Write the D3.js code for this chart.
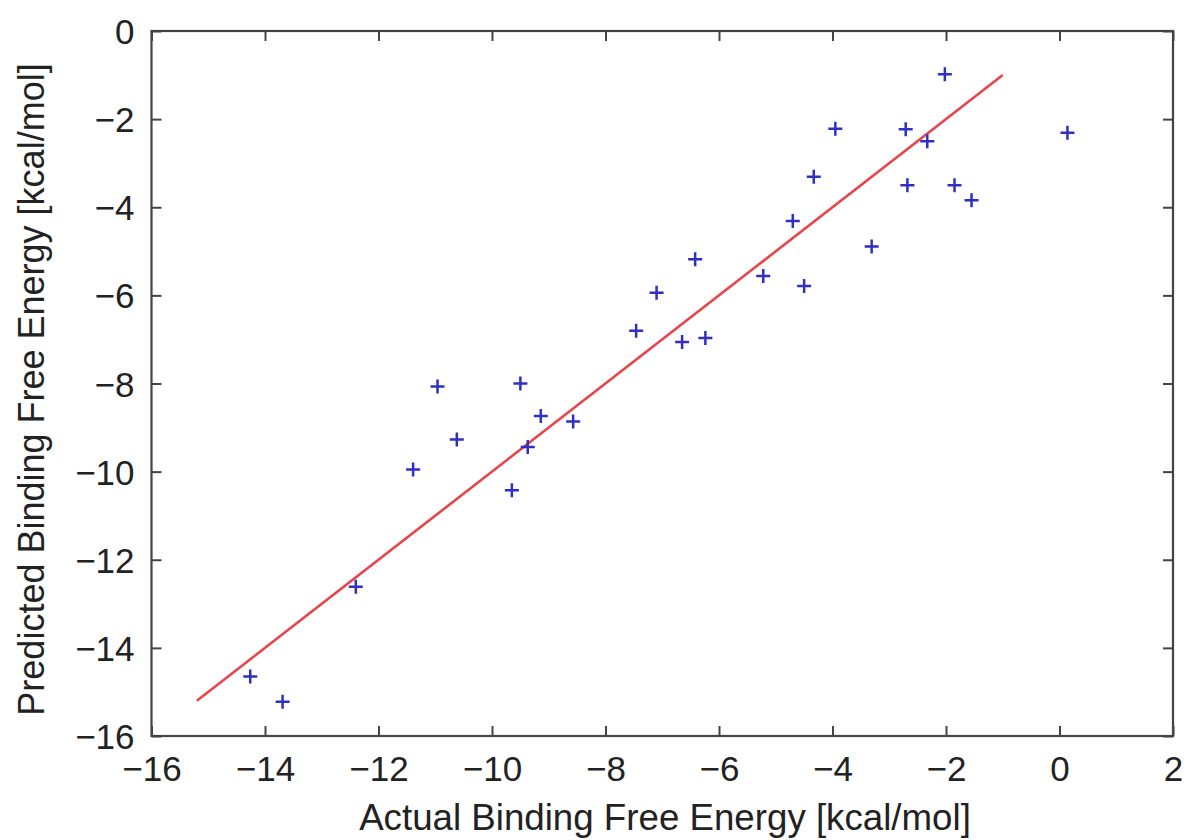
<!DOCTYPE html>
<html>
<head>
<meta charset="utf-8">
<script src="https://cdn.jsdelivr.net/npm/d3@7"></script>
<style>
  html, body { margin: 0; padding: 0; background: #fff; }
  svg { display: block; }
  text { font-family: "Liberation Sans", Arial, Helvetica, sans-serif; fill: #222; }
</style>
</head>
<body>
<svg id="chart" width="1190" height="840"></svg>
<script>
// Actual vs predicted binding free energy (kcal/mol)
const actualEnergy = [
  -14.26, -13.69, -12.40, -11.39, -10.96, -10.62, -9.65, -9.50, -9.37, -9.14,
  -8.57, -7.46, -7.10, -6.65, -6.42, -6.24, -5.22, -4.70, -4.50, -4.33,
  -3.95, -3.31, -2.71, -2.68, -2.33, -2.02, -1.85, -1.55, 0.14
];
const predictedEnergy = [
  -14.65, -15.22, -12.61, -9.95, -8.07, -9.27, -10.42, -8.00, -9.44, -8.74,
  -8.86, -6.80, -5.94, -7.06, -5.18, -6.97, -5.56, -4.31, -5.79, -3.31,
  -2.22, -4.89, -2.23, -3.50, -2.50, -0.98, -3.50, -3.84, -2.31
];
// Identity reference line endpoints
const fitLineX = [-15.2, -1.0];
const fitLineY = [-15.2, -1.0];

const xTicks = [-16, -14, -12, -10, -8, -6, -4, -2, 0, 2];
const yTicks = [0, -2, -4, -6, -8, -10, -12, -14, -16];

const svg = d3.select("#chart");
const plotLeft = 151.5, plotRight = 1173, plotTop = 31, plotBottom = 736;

const x = d3.scaleLinear().domain([-16, 2]).range([plotLeft, plotRight]);
const y = d3.scaleLinear().domain([-16, 0]).range([plotBottom, plotTop]);

const fmt = d => (d < 0 ? "\u2212" + Math.abs(d) : String(d));
const tickLen = 10;
const axisColor = "#444";

// Bottom / left axes with labels; ticks point inward
const xAxis = svg.append("g")
  .attr("transform", `translate(0,${plotBottom})`)
  .call(d3.axisBottom(x).tickValues(xTicks).tickFormat(fmt).tickSize(-tickLen).tickPadding(20));
const yAxis = svg.append("g")
  .attr("transform", `translate(${plotLeft},0)`)
  .call(d3.axisLeft(y).tickValues(yTicks).tickFormat(fmt).tickSize(-tickLen).tickPadding(17));
// Top / right axes: ticks only
const xAxisTop = svg.append("g")
  .attr("transform", `translate(0,${plotTop})`)
  .call(d3.axisTop(x).tickValues(xTicks).tickFormat("").tickSize(-tickLen));
const yAxisRight = svg.append("g")
  .attr("transform", `translate(${plotRight},0)`)
  .call(d3.axisRight(y).tickValues(yTicks).tickFormat("").tickSize(-tickLen));

[xAxis, yAxis, xAxisTop, yAxisRight].forEach(g => {
  g.select(".domain").remove();
  g.selectAll(".tick line").attr("stroke", axisColor).attr("stroke-width", 2);
  g.selectAll(".tick text").attr("font-size", 35).attr("fill", "#222")
    .style("font-family", "'Liberation Sans', Arial, sans-serif");
});
yAxis.selectAll(".tick text").attr("dy", "0.36em");

// Frame
svg.append("rect")
  .attr("x", plotLeft).attr("y", plotTop)
  .attr("width", plotRight - plotLeft).attr("height", plotBottom - plotTop)
  .attr("fill", "none").attr("stroke", axisColor).attr("stroke-width", 2.2);

// Reference line
svg.append("line")
  .attr("x1", x(fitLineX[0])).attr("y1", y(fitLineY[0]))
  .attr("x2", x(fitLineX[1])).attr("y2", y(fitLineY[1]))
  .attr("stroke", "#e8444a").attr("stroke-width", 2.6);

// Data points as '+' markers
const points = actualEnergy.map((a, i) => ({ a, p: predictedEnergy[i] }));
const arm = 7;
svg.append("g").selectAll("path")
  .data(points).join("path")
  .attr("d", d => {
    const cx = x(d.a), cy = y(d.p);
    return `M${cx - arm},${cy}H${cx + arm}M${cx},${cy - arm}V${cy + arm}`;
  })
  .attr("stroke", "#2f2fc4").attr("stroke-width", 2.5).attr("fill", "none");

// Axis titles
svg.append("text")
  .attr("x", 665).attr("y", 830)
  .attr("text-anchor", "middle").attr("font-size", 36.7)
  .text("Actual Binding Free Energy [kcal/mol]");
svg.append("text")
  .attr("transform", `translate(44,${(plotTop + plotBottom) / 2 + 6}) rotate(-90)`)
  .attr("text-anchor", "middle").attr("font-size", 36)
  .text("Predicted Binding Free Energy [kcal/mol]");
</script>
</body>
</html>
